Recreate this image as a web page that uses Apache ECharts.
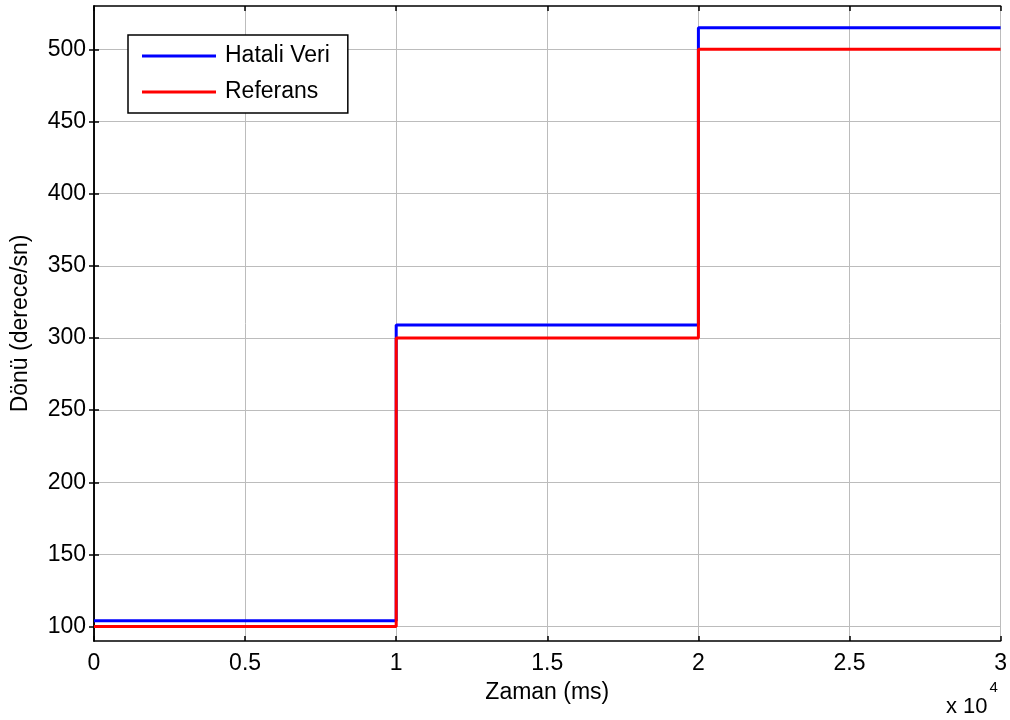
<!DOCTYPE html>
<html>
<head>
<meta charset="utf-8">
<script src="https://cdn.jsdelivr.net/npm/echarts@6/dist/echarts.min.js"></script>
<style>html,body{margin:0;padding:0;background:#fff;}#c{width:1010px;height:720px;}</style>
</head>
<body>
<div id="c"></div>
<script>
// Data
const stepTimes = [0, 10000, 20000, 30000];          // ms
const hataliVeri = [104, 309, 515];                   // degree/s per step
const referans = [100, 300, 500];                     // degree/s per step
const yTicks = [100, 150, 200, 250, 300, 350, 400, 450, 500];
const xTicks = [0, 5000, 10000, 15000, 20000, 25000, 30000];
const seriesNames = ['Hatali Veri', 'Referans'];

function stepPoints(vals) {
  const pts = [];
  for (let i = 0; i < vals.length; i++) {
    pts.push([stepTimes[i], vals[i]]);
    pts.push([stepTimes[i + 1], vals[i]]);
  }
  return pts;
}

const font = 'Arial, "Liberation Sans", sans-serif';
const fs = 23;
const chart = echarts.init(document.getElementById('c'), null, {renderer: 'canvas'});

const gridColor = '#bcbcbc';
const baseX = {
  type: 'value', min: 0, max: 30000, interval: 5000,
  axisLine: {show: true, lineStyle: {color: '#000', width: 1.5}},
  axisTick: {show: true, inside: true, length: 5, lineStyle: {color: '#000', width: 1.5}},
};
const baseY = {
  type: 'value', min: 90, max: 530,
  axisLine: {show: true, lineStyle: {color: '#000', width: 1.5}},
  axisTick: {show: true, inside: true, length: 5, customValues: yTicks, lineStyle: {color: '#000', width: 1.5}},
};

chart.setOption({
  animation: false,
  backgroundColor: '#fff',
  grid: {left: 94, top: 6, right: 8, bottom: 79, show: false},
  xAxis: [
    Object.assign({}, baseX, {
      position: 'bottom',
      name: 'Zaman (ms)', nameLocation: 'middle', nameGap: 40,
      nameTextStyle: {fontFamily: font, fontSize: fs, color: '#000'},
      axisLabel: {fontFamily: font, fontSize: fs, color: '#000', margin: 11,
        formatter: v => String(v / 10000)},
      splitLine: {show: true, lineStyle: {color: gridColor, width: 1}}
    }),
    Object.assign({}, baseX, {
      position: 'top',
      axisLabel: {show: false}, splitLine: {show: false}
    })
  ],
  yAxis: [
    Object.assign({}, baseY, {
      position: 'left',
      name: 'Dönü (derece/sn)', nameLocation: 'middle', nameGap: 62, nameRotate: 90,
      nameTextStyle: {fontFamily: font, fontSize: fs, color: '#000'},
      axisLabel: {fontFamily: font, fontSize: fs, color: '#000', margin: 8, customValues: yTicks},
      splitLine: {show: false}
    }),
    Object.assign({}, baseY, {
      position: 'right',
      axisLabel: {show: false}, splitLine: {show: false}
    })
  ],
  legend: {
    orient: 'vertical', left: 128, top: 35,
    data: seriesNames,
    icon: 'rect', itemWidth: 74, itemHeight: 3, itemGap: 10,
    backgroundColor: '#fff',
    borderColor: '#000', borderWidth: 1.5, borderRadius: 0,
    padding: [8, 18, 8, 14],
    textStyle: {fontFamily: font, fontSize: fs, color: '#000', padding: [0, 0, 0, 4], lineHeight: 26}
  },
  graphic: [{
    type: 'text', left: 946, top: 680,
    style: {
      text: '{a|x 10}{b|4}',
      rich: {
        a: {fontFamily: font, fontSize: 22, fill: '#000', padding: [16, 0, 0, 0]},
        b: {fontFamily: font, fontSize: 15, fill: '#000', verticalAlign: 'top', padding: [0, 0, 0, 2]}
      }
    }
  }],
  series: [
    {
      name: 'Hatali Veri', type: 'line', data: stepPoints(hataliVeri), showSymbol: false,
      lineStyle: {color: '#0000ff', width: 3}, itemStyle: {color: '#0000ff'},
      markLine: {
        silent: true, symbol: 'none', label: {show: false}, z: 0,
        lineStyle: {color: gridColor, width: 1, type: 'solid'},
        data: yTicks.map(v => ({yAxis: v}))
      },
      z: 3
    },
    {
      name: 'Referans', type: 'line', data: stepPoints(referans), showSymbol: false,
      lineStyle: {color: '#ff0000', width: 3}, itemStyle: {color: '#ff0000'},
      z: 4
    }
  ]
});
</script>
</body>
</html>
